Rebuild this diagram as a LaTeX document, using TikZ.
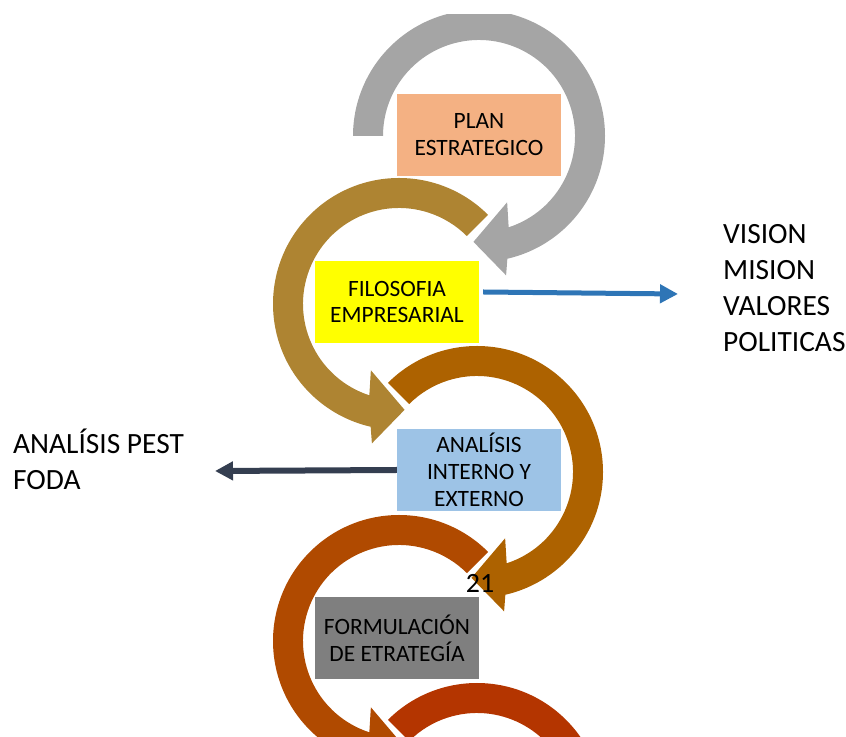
\documentclass[tikz,border=0pt]{standalone}
\usepackage{fontspec}
\setmainfont{Carlito}
\usetikzlibrary{arrows.meta}
\definecolor{ringgray}{HTML}{A5A5A5}
\definecolor{ringgold}{HTML}{AE8432}
\definecolor{ringocre}{HTML}{AD6200}
\definecolor{ringrust}{HTML}{B04A00}
\definecolor{ringred}{HTML}{B43500}
\definecolor{planbox}{HTML}{F4B183}
\definecolor{filobox}{HTML}{FFFF00}
\definecolor{analbox}{HTML}{9DC3E6}
\definecolor{formbox}{HTML}{7F7F7F}
\definecolor{linkblue}{HTML}{2E75B6}
\definecolor{linkdark}{HTML}{343E50}
\tikzset{
  stagebox/.style={rectangle,minimum width=164bp,minimum height=82bp,inner sep=0pt,
    align=center,font=\fontsize{23.5}{27}\selectfont},
  sidetext/.style={anchor=west,inner sep=0pt,align=left,font=\fontsize{29.5}{36}\selectfont},
  link/.style={line width=5bp,-{Triangle[length=18bp,width=18bp]}},
}
\begin{document}
\begin{tikzpicture}[x=1bp,y=1bp]
\useasboundingbox (0,0) rectangle (846,737);
% circular arrows, every other one mirrored
\begin{scope}
\clip (0,0) rectangle (846,722);
\foreach \cx/\cy/\s/\m/\col in {479/601/180/1/ringgray,399/433/135/-1/ringgold,
    477/265/135/1/ringocre,399/96/135/-1/ringrust,477/-72/135/1/ringred}
  \fill[\col,shift={(\cx,\cy)},xscale=\m] (\s:126) arc[start angle=\s,end angle=-77,radius=126]
    -- (-79:142) -- (-93:106) -- (-67:72) -- (-72:96)
    arc[start angle=-72,end angle=\s,radius=96] -- cycle;
\end{scope}
% stages
\node[stagebox,fill=planbox] (plan) at (479,602) {PLAN\\ESTRATEGICO};
\node[stagebox,fill=filobox] (filo) at (397,435) {FILOSOFIA\\EMPRESARIAL};
\node[stagebox,fill=analbox] (anal) at (479,267) {ANALÍSIS\\INTERNO Y\\EXTERNO};
\node[stagebox,fill=formbox] (form) at (397,99) {FORMULACIÓN\\DE ETRATEGÍA};
\node[font=\fontsize{28}{34}\selectfont,anchor=base,inner sep=0pt] (pnum) at (480,144) {21};
% side notes
\node[sidetext] (vmvp) at (723,449) {VISION\\MISION\\VALORES\\POLITICAS};
\node[sidetext] (pest) at (13,278) {ANALÍSIS PEST\\FODA};
\coordinate (vmvptip) at (678,443);
\coordinate (pesttip) at (215,266);
\draw[link,linkblue] ([xshift=4bp,yshift=10bp]filo.east) -- (vmvptip);
\draw[link,linkdark,line width=6bp] (anal.west) -- (pesttip);
\end{tikzpicture}
\end{document}
